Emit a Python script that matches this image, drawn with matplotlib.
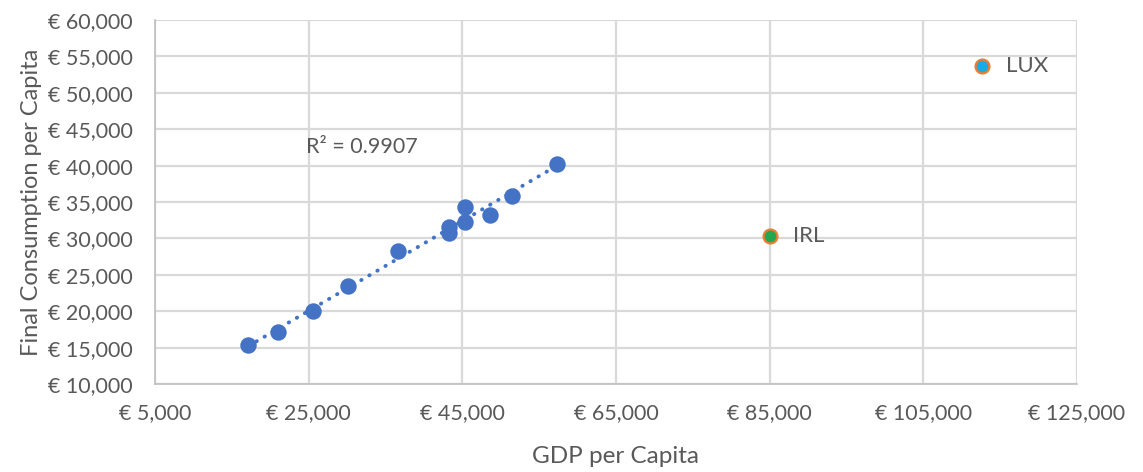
import matplotlib
matplotlib.use("Agg")
import matplotlib.pyplot as plt
import numpy as np
from matplotlib.ticker import FuncFormatter, FixedLocator

# Main group (GDP per capita, final consumption per capita)
gdp = [17160, 21020, 25600, 30140, 36650, 43240, 43240, 45300, 45300, 48640, 51460, 57290]
cons = [15320, 17150, 19990, 23440, 28300, 30770, 31510, 32280, 34260, 33250, 35870, 40280]

# Outliers
out_labels = ["IRL", "LUX"]
out_gdp = [85000, 112700]
out_cons = [30320, 53720]
out_fill = ["#23A84F", "#1DA9E2"]

x_ticks = [5000, 25000, 45000, 65000, 85000, 105000, 125000]
y_ticks = [10000, 15000, 20000, 25000, 30000, 35000, 40000, 45000, 50000, 55000, 60000]

r2_text = "R² = 0.9907"

plt.rcParams['font.family'] = ['Lato', 'DejaVu Sans']
text_col = "#595959"
grid_col = "#D9D9D9"

fig = plt.figure(figsize=(11.43, 4.72), dpi=100)
ax = fig.add_axes([155/1143, 1-384/472, (1077-155)/1143, (384-20)/472])

ax.set_xlim(x_ticks[0], x_ticks[-1])
ax.set_ylim(y_ticks[0], y_ticks[-1])
ax.xaxis.set_major_locator(FixedLocator(x_ticks))
ax.yaxis.set_major_locator(FixedLocator(y_ticks))
fmt = FuncFormatter(lambda v, p: "€ {:,.0f}".format(v))
ax.xaxis.set_major_formatter(fmt)
ax.yaxis.set_major_formatter(fmt)

ax.grid(True, color=grid_col, linewidth=1.6, zorder=0)
ax.set_axisbelow(True)
for s in ["top", "right"]:
    ax.spines[s].set_visible(False)
for s in ["left", "bottom"]:
    ax.spines[s].set_color("#BFBFBF")
    ax.spines[s].set_linewidth(1.2)

ax.tick_params(axis='both', length=0, labelsize=15.5, colors=text_col)
ax.tick_params(axis='y', pad=16)
ax.tick_params(axis='x', pad=14)

# Trendline (linear fit over main group)
coef = np.polyfit(gdp, cons, 1)
xs = np.array([min(gdp), max(gdp)])
ax.plot(xs, np.polyval(coef, xs), color="#4472C4", linewidth=2.8,
        linestyle=(0, (0.1, 2.3)), dash_capstyle='round', zorder=2)

ax.scatter(gdp, cons, s=140, color="#4472C4", zorder=3, linewidths=0)

for lab, xg, yc, fc in zip(out_labels, out_gdp, out_cons, out_fill):
    ax.scatter([xg], [yc], s=100, color=fc, edgecolors="#ED7D31", linewidths=1.6, zorder=3)
    ax.annotate(lab, (xg, yc), xytext=(17, 0), textcoords='offset points',
                va='center', ha='left', fontsize=16, color=text_col)

ax.text(31900, 42600, r2_text, fontsize=15.5, color=text_col, ha='center', va='center')

ax.set_xlabel("GDP per Capita", fontsize=17.5, color=text_col, labelpad=16)
ax.set_ylabel("Final Consumption per Capita", fontsize=17, color=text_col, labelpad=4)

fig.savefig("out.png", dpi=100)
